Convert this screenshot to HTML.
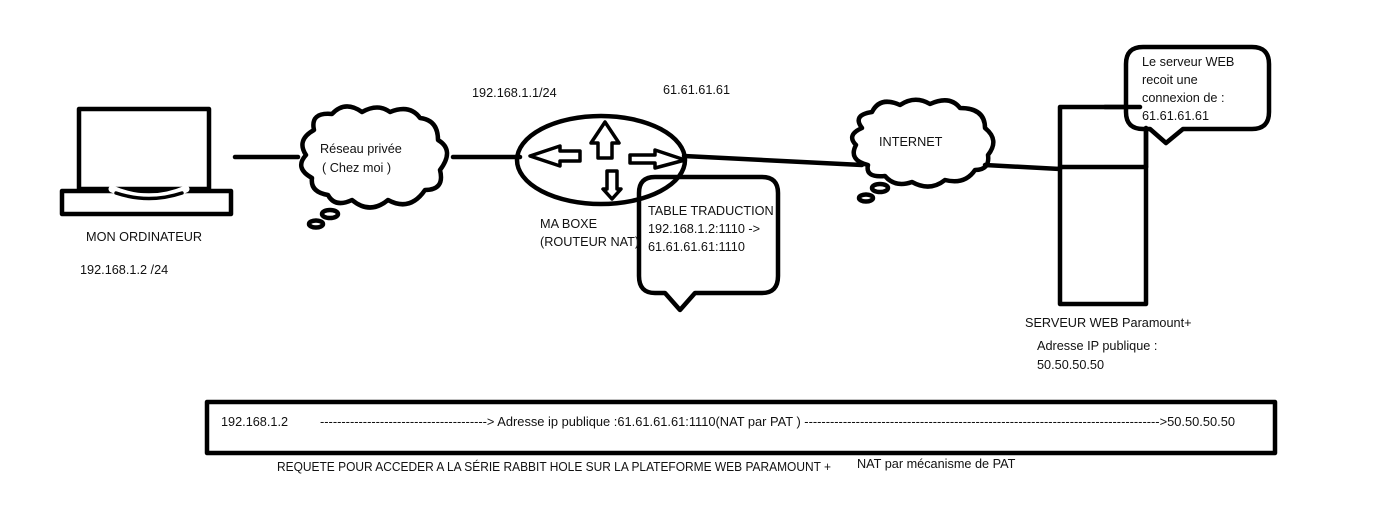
<!DOCTYPE html>
<html><head><meta charset="utf-8"><style>
html,body{margin:0;padding:0;background:#fff;}
svg{display:block;}
text{font-family:"Liberation Sans",sans-serif;font-size:12.7px;fill:#111;}
</style></head><body>
<svg width="1373" height="521" viewBox="0 0 1373 521" xmlns="http://www.w3.org/2000/svg">
<g fill="none" stroke="#000" stroke-width="4.5" stroke-linejoin="round" stroke-linecap="round">
<!-- laptop -->
<rect x="79" y="109" width="130" height="80" stroke-linecap="butt"/>
<rect x="62" y="191" width="169" height="23"/>
<path d="M112 189 Q149 205 186 189" stroke="#fff" stroke-width="7"/>
<path d="M116 193 Q149 204 182 193" stroke-width="3.5"/>
<line x1="235" y1="157" x2="298" y2="157"/>
<!-- cloud 1 -->
<path d="M314 130 Q310 112 332 114 Q345 100 362 112 Q378 103 390 112 Q410 104 420 118 Q438 120 438 140 Q455 150 440 170 Q445 190 425 190 Q410 212 388 200 Q370 215 352 200 Q335 208 328 195 Q310 192 312 178 Q294 168 306 155 Q296 140 314 130 Z"/>
<ellipse cx="330" cy="214" rx="8" ry="4"/>
<ellipse cx="316" cy="224" rx="7" ry="3.5"/>
<line x1="453" y1="157" x2="520" y2="157"/>
<!-- router -->
<ellipse cx="601" cy="160" rx="84" ry="44"/>
<path d="M598 158 V143 H591 L605 122 L619 143 H612 V158 Z" stroke-width="3.5"/>
<path d="M580 163 V153 H560 V148 L530 158 L560 168 V163 Z" stroke-width="3.5" transform="translate(0,-2)"/>
<path d="M630 155 H655 V150 L685 160 L655 168 V163 H630 Z" stroke-width="3.5"/>
<path d="M607 171 H617 V189 H621 L612 199 L603 189 H607 Z" stroke-width="3.5"/>
<line x1="684" y1="156" x2="862" y2="165"/>
<!-- table callout -->
<path d="M655 177 H762 Q778 177 778 193 V276 Q778 293 762 293 H695 L680 310 L665 293 H655 Q639 293 639 276 V193 Q639 177 655 177 Z"/>
<!-- internet cloud -->
<path d="M862 128 Q852 115 872 112 Q880 96 900 105 Q915 95 930 104 Q950 95 960 108 Q985 108 985 128 Q1000 140 988 155 Q990 170 975 170 Q965 185 945 180 Q930 192 912 182 Q895 188 885 176 Q865 178 868 165 Q848 160 856 145 Q846 135 862 128 Z"/>
<ellipse cx="880" cy="188" rx="8" ry="4"/>
<ellipse cx="866" cy="198" rx="7" ry="3.5"/>
<line x1="985" y1="165" x2="1060" y2="169"/>
<!-- server -->
<rect x="1060" y="107" width="86" height="197"/>
<line x1="1060" y1="167" x2="1146" y2="167"/>
<!-- server callout -->
<path d="M1143 47 H1252 Q1269 47 1269 64 V112 Q1269 129 1252 129 H1183 L1166 143 L1150 129 H1143 Q1126 129 1126 112 V64 Q1126 47 1143 47 Z" fill="#fff"/>
<line x1="1146" y1="128" x2="1146" y2="167"/>
<line x1="1105" y1="107" x2="1140" y2="107"/>
<!-- bottom box -->
<rect x="207" y="402" width="1068" height="51"/>
</g>
<text x="86" y="241">MON ORDINATEUR</text>
<text x="80" y="274">192.168.1.2 /24</text>
<text x="320" y="153">Réseau privée</text>
<text x="322" y="172">( Chez moi )</text>
<text x="472" y="97">192.168.1.1/24</text>
<text x="663" y="94">61.61.61.61</text>
<text x="540" y="228">MA BOXE</text>
<text x="540" y="246">(ROUTEUR NAT)</text>
<text x="648" y="215">TABLE  TRADUCTION</text>
<text x="648" y="233">192.168.1.2:1110 -&gt;</text>
<text x="648" y="251">61.61.61.61:1110</text>
<text x="879" y="146">INTERNET</text>
<text x="1142" y="66">Le serveur WEB</text>
<text x="1142" y="84">recoit une</text>
<text x="1142" y="102">connexion de :</text>
<text x="1142" y="120">61.61.61.61</text>
<text x="1025" y="327">SERVEUR WEB  Paramount+</text>
<text x="1037" y="350">Adresse IP publique :</text>
<text x="1037" y="369">50.50.50.50</text>
<text x="221" y="426">192.168.1.2</text>
<text x="320" y="426" textLength="915" lengthAdjust="spacingAndGlyphs">---------------------------------------&gt; Adresse ip publique :61.61.61.61:1110(NAT par PAT ) -----------------------------------------------------------------------------------&gt;50.50.50.50</text>
<text x="277" y="471" textLength="554" lengthAdjust="spacingAndGlyphs">REQUETE POUR ACCEDER A LA SÉRIE RABBIT HOLE SUR LA PLATEFORME WEB PARAMOUNT +</text>
<text x="857" y="468">NAT par mécanisme de PAT</text>
</svg>
</body></html>
